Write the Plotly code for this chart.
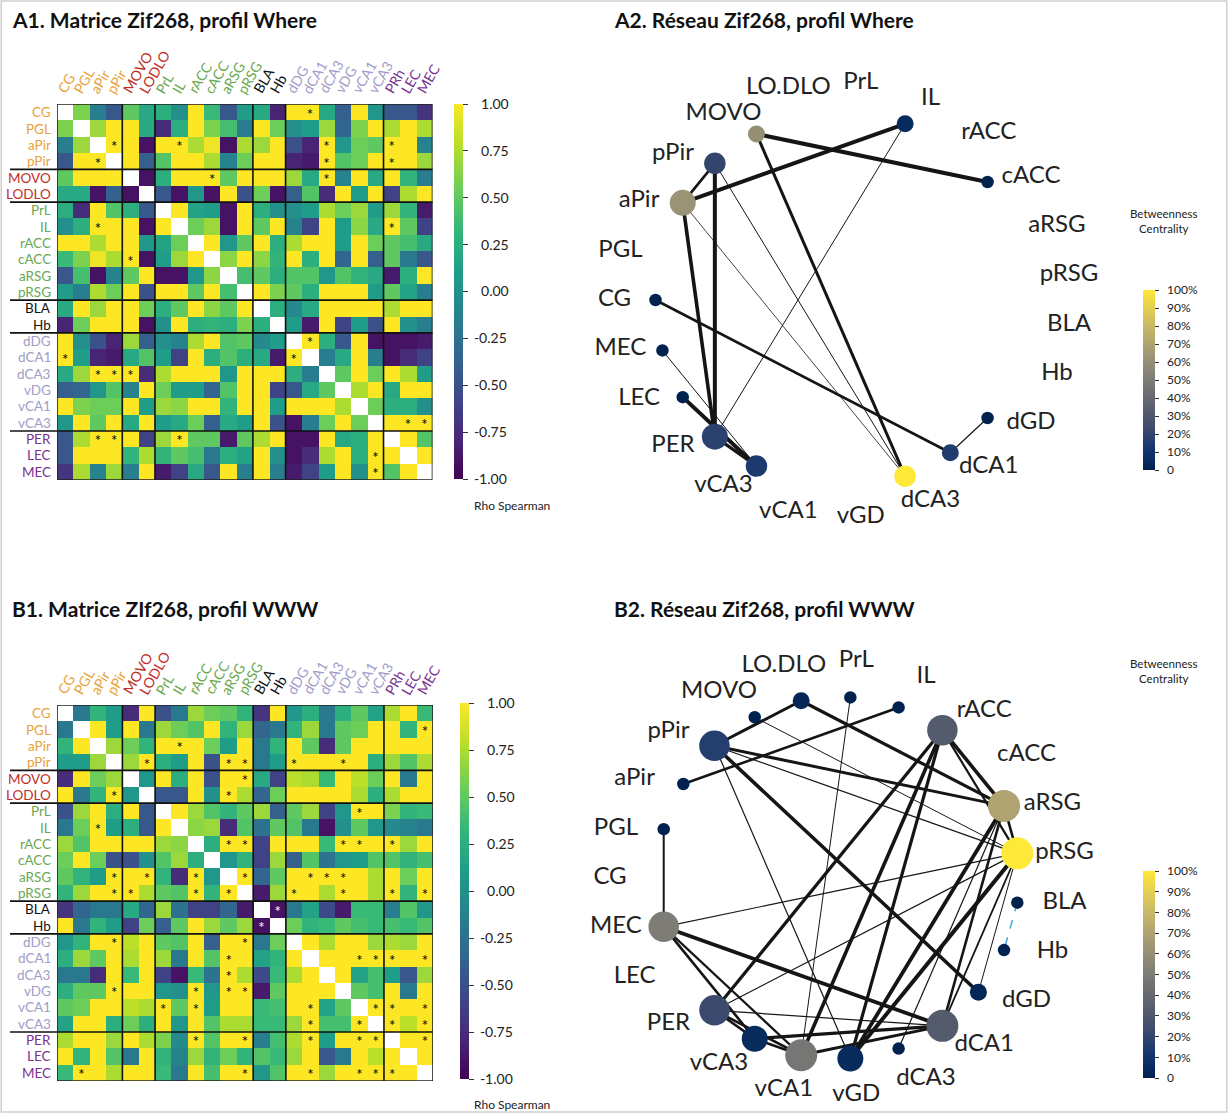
import numpy as np
import plotly.graph_objects as go

W, H = 1228, 1113
FONT = "Lato"

# ---------------- heatmap data ----------------
row_labels = ["CG", "PGL", "aPir", "pPir", "MOVO", "LODLO", "PrL", "IL", "rACC", "cACC", "aRSG", "pRSG",
              "BLA", "Hb", "dDG", "dCA1", "dCA3", "vDG", "vCA1", "vCA3", "PER", "LEC", "MEC"]
col_labels = ["CG", "PGL", "aPir", "pPir", "MOVO", "LODLO", "PrL", "IL", "rACC", "cACC", "aRSG", "pRSG",
              "BLA", "Hb", "dDG", "dCA1", "dCA3", "vDG", "vCA1", "vCA3", "PRh", "LEC", "MEC"]
group_sizes = [4, 2, 6, 2, 6, 3]
group_colors = ["#E8A23A", "#BF2E26", "#6AA84F", "#111111", "#A19DC8", "#7A3290"]

# upper triangle, row i lists columns i+1 .. 22
a1_upper = [
    [0.6, -0.15, -0.45, 0.5, 0.2, 0.25, 0.0, 1, 0.35, -0.45, 0.1, 0.2, -0.8, 1, 1, 0.2, -0.4, 1, 0.05, -0.45, -0.45, -0.7],
    [0.7, 1, 1, 0.2, -0.75, 0.25, 1, 0.6, 0.4, -0.15, 1, 0.55, 0.0, 0.1, 0.7, -0.35, 0.6, 1, 0.75, 1, 0.75],
    [1, 1, -0.9, 1, 1, 0.75, 0.95, -0.9, 0.75, 0.7, 1, -0.5, -0.8, 1, 0.05, 0.55, 0.5, 1, 1, -0.1],
    [1, -0.4, 0.45, 1, 1, 0.75, -0.1, 0.55, 1, 1, -0.8, -0.85, 1, 0.45, 0.55, 1, 1, 1, 0.7],
    [-0.9, 0.25, 1, 1, 1, 0.5, 1, 1, 1, 0.7, 0.2, 1, -0.1, 1, 0.2, 1, 0.3, -0.15],
    [-0.45, -0.9, 0.05, -0.9, 1, -0.5, 0.55, -0.9, -0.4, 0.45, -0.75, 1, 0.1, 1, -0.6, 0.75, 1],
    [1, 0.15, 0.1, -0.9, 1, 0.25, 0.0, 0.0, 0.1, 0.75, 0.55, 0.7, 0.1, 0.7, 0.3, -0.85],
    [0.55, 0.7, -0.9, 1, 0.5, 1, -0.1, -0.6, 1, 0.1, 0.65, 0.2, 1, 0.5, -0.6],
    [1, 0.05, 0.5, 1, 0.25, 0.75, 1, 1, 0.1, 1, 0.55, 0.5, 0.4, 0.2],
    [0.65, 1, 0.65, 0.3, 1, 0.25, 1, -0.35, 1, -0.4, 0.5, -0.2, -0.45],
    [0.4, 0.5, 0.25, 0.45, 0.45, 0.05, 0.45, 0.3, 0.2, -0.85, 0.25, 1],
    [1, 0.6, 0.5, 0.25, 1, 1, 1, 0.1, 0.5, 0.15, -0.15],
    [0.25, -0.05, 0.2, 1, 1, 1, 1, 0.75, 1, 1],
    [0.1, -0.85, 1, -0.6, 0.1, -0.5, 1, 0.0, -0.15],
    [1, 0.25, -0.45, 1, -0.9, -0.9, -0.9, -0.85],
    [-0.15, 0.2, 1, -0.15, -0.9, -0.75, -0.6],
    [0.5, 1, 0.55, 1, 0.75, 0.1],
    [0.75, 1, 0.2, 1, 1],
    [0.55, 0.25, 0.25, 0.0],
    [1, 1, 1],
    [1, 0.45],
    [1],
]
a1_stars = [(0, 15), (2, 3), (2, 7), (2, 16), (2, 20), (3, 16), (3, 20), (4, 9), (4, 16),
            (7, 20), (14, 15), (19, 21), (19, 22)]

b1_upper = [
    [-0.2, 0.3, 0.1, -0.75, 1, -0.5, -0.2, 0.7, 0.55, 0.5, 0.3, -0.7, 1, 0.05, 0.25, -0.2, 0.25, 0.5, 0.15, 0.75, 1, 0.35],
    [1, 0.1, 1, -0.2, 0.7, 0.55, 0.45, 1, 0.3, 0.7, -0.35, -0.2, 0.3, 0.7, -0.2, 0.5, 0.55, 1, 1, 0.3, 1],
    [0.7, 0.55, 0.3, 1, 1, 1, 0.55, 0.1, 1, -0.2, 0.3, 1, 0.5, -0.75, 0.5, 1, 1, 1, 1, 1],
    [0.7, 1, 0.25, 0.1, 1, -0.5, 1, 1, -0.2, 0.1, 1, 1, 1, 1, 1, 0.25, 0.7, 0.45, 0.75],
    [0.05, 1, 0.25, 1, -0.5, 1, 1, 0.2, -0.6, 0.8, 0.75, 0.35, 1, 0.8, 0.55, 1, -0.2, 1],
    [-0.45, -0.45, 1, 0.0, 1, 0.75, -0.35, 0.55, 1, 1, 1, 1, 0.75, 0.25, 0.75, 1, 1],
    [1, 0.7, 0.45, 0.3, 0.5, 0.7, -0.4, 0.5, 0.7, -0.6, 0.05, 1, 1, 0.6, 0.3, 0.35],
    [0.65, 0.7, -0.75, 0.45, -0.25, 0.5, 0.45, -0.2, -0.9, 0.0, 0.5, 0.05, -0.05, -0.1, -0.2],
    [0.25, 1, 1, -0.6, 1, 1, 1, 0.35, 1, 1, 1, 1, 0.7, 1],
    [0.05, 0.3, -0.6, 0.7, -0.4, 0.45, -0.25, 0.05, 0.1, 0.45, 0.45, 0.3, 0.4],
    [1, -0.35, 0.5, 1, 1, 1, 1, 1, 0.75, 1, 0.55, 1],
    [-0.85, 0.7, 1, 1, 0.75, 1, 1, 0.75, 1, 0.3, 1],
    [-0.9, -0.2, 0.15, -0.55, -0.85, 0.35, 0.35, -0.15, 0.45, 0.05],
    [0.55, 0.3, 0.35, 0.5, 0.4, 0.35, 0.4, 0.35, 0.45],
    [1, 0.75, 1, 1, 0.7, 0.75, 0.7, 1],
    [1, 1, 1, 1, 1, 1, 1],
    [1, 0.15, 0.4, 0.1, -0.45, 0.7],
    [0.5, 0.4, 1, -0.2, 1],
    [1, 1, 1, 1],
    [1, 0.8, 1],
    [1, 1],
    [1],
]
b1_stars = [(1, 22), (2, 7), (3, 5), (3, 10), (3, 11), (3, 14), (3, 17), (4, 11), (5, 10), (6, 18),
            (8, 10), (8, 11), (8, 17), (8, 18), (8, 20), (10, 11), (10, 15), (10, 16), (10, 17),
            (11, 14), (11, 17), (11, 20), (11, 22), (12, 13), (15, 18), (15, 19), (15, 20), (15, 22),
            (18, 19), (18, 20), (18, 22), (19, 20), (19, 22), (20, 22)]

cb_rho_ticks = [1.0, 0.75, 0.5, 0.25, 0.0, -0.25, -0.5, -0.75, -1.0]

# ---------------- network data ----------------
net_nodes = ["LO.DLO", "PrL", "IL", "rACC", "cACC", "aRSG", "pRSG", "BLA", "Hb", "dGD", "dCA1", "dCA3",
             "vGD", "vCA1", "vCA3", "PER", "LEC", "MEC", "CG", "PGL", "aPir", "pPir", "MOVO"]

a2_edges = [("MOVO", "cACC", 0.97), ("aPir", "IL", 0.97), ("aPir", "pPir", 0.90), ("aPir", "PER", 0.95),
            ("pPir", "PER", 0.97), ("MOVO", "dCA3", 0.92), ("IL", "PER", 0.82), ("pPir", "dCA3", 0.82),
            ("aPir", "dCA3", 0.81), ("CG", "dCA1", 0.90), ("MEC", "vCA3", 0.82), ("LEC", "vCA3", 0.97),
            ("PER", "vCA3", 0.93), ("dCA1", "dGD", 0.83)]
a2_betw_nodes = ["dCA3", "aPir", "MOVO", "pPir", "PER", "vCA3", "dCA1", "IL"]
a2_betw_vals = [1.0, 0.62, 0.60, 0.20, 0.18, 0.14, 0.15, 0.05]

b2_edges = [("pPir", "LO.DLO", 0.92), ("LO.DLO", "aRSG", 0.93), ("MOVO", "pRSG", 0.82), ("IL", "aPir", 0.90),
            ("PrL", "vCA1", 0.82), ("pPir", "aRSG", 0.92), ("pPir", "pRSG", 0.83), ("pPir", "dGD", 0.95),
            ("pPir", "vGD", 0.83), ("rACC", "aRSG", 0.95), ("rACC", "pRSG", 0.88), ("rACC", "PER", 0.93),
            ("rACC", "vCA1", 0.95), ("rACC", "vGD", 0.93), ("aRSG", "vGD", 0.96), ("pRSG", "vGD", 0.97),
            ("aRSG", "dCA1", 0.90), ("aRSG", "dCA3", 0.83), ("aRSG", "pRSG", 0.90), ("pRSG", "MEC", 0.83),
            ("pRSG", "PER", 0.83), ("pRSG", "dGD", 0.82), ("pRSG", "dCA1", 0.86), ("BLA", "Hb", -0.90),
            ("PGL", "MEC", 0.87), ("MEC", "dCA1", 0.96), ("MEC", "vCA3", 0.90), ("MEC", "vCA1", 0.88),
            ("PER", "vCA3", 0.90), ("PER", "vCA1", 0.90), ("PER", "dCA1", 0.83), ("vCA3", "vCA1", 0.90),
            ("vCA3", "dCA1", 0.93), ("vCA1", "dCA1", 0.92)]
b2_betw_nodes = ["pRSG", "aRSG", "MEC", "vCA1", "rACC", "dCA1", "PER", "pPir", "vGD", "vCA3", "LO.DLO", "dGD"]
b2_betw_vals = [1.0, 0.70, 0.50, 0.47, 0.32, 0.32, 0.22, 0.16, 0.05, 0.05, 0.03, 0.03]

betw_ticks = [0, 0.1, 0.2, 0.3, 0.4, 0.5, 0.6, 0.7, 0.8, 0.9, 1.0]
betw_ticktext = ["0", "10%", "20%", "30%", "40%", "50%", "60%", "70%", "80%", "90%", "100%"]

# ---------------- helpers ----------------
def px_x(p):
    return p / W


def px_y(p):
    return 1 - p / H


def full_matrix(upper):
    n = len(upper) + 1
    m = np.full((n, n), np.nan)
    for i, row in enumerate(upper):
        for k, v in enumerate(row):
            j = i + 1 + k
            m[i, j] = v
            m[j, i] = v
    return m


fig = go.Figure()
shapes = []
annotations = []
n = len(row_labels)
bounds = list(np.cumsum(group_sizes)[:-1])
label_group = []
for g, s in enumerate(group_sizes):
    label_group += [g] * s


def add_heatmap(upper, stars, xname, yname, dom_x, dom_y, cb_x, cb_y):
    z = full_matrix(upper)
    xa = "x" if xname == "xaxis" else "x" + xname[5:]
    ya = "y" if yname == "yaxis" else "y" + yname[5:]
    ticktext = [("\u00a0\u00a0\u00a0" if v >= 0 else "\u00a0") + f"{v:.2f}" for v in cb_rho_ticks]
    fig.add_trace(go.Heatmap(
        z=z, x=list(range(n)), y=list(range(n)), xaxis=xa, yaxis=ya,
        colorscale="Viridis", zmin=-1, zmax=1, hoverongaps=False,
        colorbar=dict(x=px_x(cb_x[0]), xanchor="left", xpad=0, thickness=cb_x[1] - cb_x[0],
                      y=px_y(cb_y[0]), yanchor="top", ypad=0, len=(cb_y[1] - cb_y[0]) / H,
                      lenmode="fraction", tickvals=cb_rho_ticks, ticktext=ticktext,
                      ticks="outside", ticklen=5, tickcolor="#333", outlinewidth=0,
                      tickfont=dict(family=FONT, size=14, color="#222"))))
    sx, sy, st, sc = [], [], [], []
    for (i, j) in stars:
        for (r, c) in [(i, j), (j, i)]:
            sx.append(c)
            sy.append(r + 0.22)
            st.append("*")
            sc.append("white" if z[r, c] < -0.6 else "black")
    fig.add_trace(go.Scatter(x=sx, y=sy, mode="text", text=st, xaxis=xa, yaxis=ya,
                             textfont=dict(family=FONT, size=15, color=sc), hoverinfo="skip"))
    fig.layout[xname] = dict(domain=[px_x(dom_x[0]), px_x(dom_x[1])], range=[-0.5, n - 0.5],
                             visible=False, anchor=ya, fixedrange=True)
    fig.layout[yname] = dict(domain=[px_y(dom_y[1]), px_y(dom_y[0])], range=[n - 0.5, -0.5],
                             visible=False, anchor=xa, fixedrange=True)
    line = dict(color="#111", width=1.6)
    for b in bounds:
        shapes.append(dict(type="line", xref=xa, yref=ya, x0=b - 0.5, x1=b - 0.5, y0=-0.5, y1=n - 0.5, line=line))
        shapes.append(dict(type="line", xref="paper", yref=ya, x0=px_x(10), x1=px_x(dom_x[1]),
                           y0=b - 0.5, y1=b - 0.5, line=line))
        shapes.append(dict(type="line", xref=xa, yref=ya, xsizemode="pixel", xanchor=b - 0.5, x0=0, x1=27,
                           ysizemode="pixel", yanchor=-0.5, y0=0, y1=48, line=line))
    shapes.append(dict(type="rect", xref=xa, yref=ya, x0=-0.5, x1=n - 0.5, y0=-0.5, y1=n - 0.5,
                       line=dict(color="#222", width=1.6)))
    for i in range(n):
        col = group_colors[label_group[i]]
        annotations.append(dict(x=px_x(dom_x[0] - 4), xref="paper", y=i, yref=ya, text=row_labels[i],
                                xanchor="right", yanchor="middle", showarrow=False,
                                font=dict(family=FONT, size=13.5, color=col)))
        annotations.append(dict(x=i, xref=xa, y=-0.5, yref=ya, text=col_labels[i], textangle=-60,
                                xanchor="left", yanchor="bottom", xshift=-14, yshift=5, showarrow=False,
                                font=dict(family=FONT, size=14, color=col)))


add_heatmap(a1_upper, a1_stars, "xaxis", "yaxis", (57, 432.5), (104, 480), (454, 463), (104, 479))
add_heatmap(b1_upper, b1_stars, "xaxis2", "yaxis2", (57, 433), (705, 1081), (460, 469), (703, 1079))

for yy in (506, 1104):
    annotations.append(dict(x=px_x(512), y=px_y(yy), xref="paper", yref="paper", text="Rho Spearman",
                            xanchor="center", yanchor="middle", showarrow=False,
                            font=dict(family=FONT, size=12, color="#222")))


# ---------------- networks ----------------
def add_network(edges, betw_nodes, betw_vals, xname, yname, center, r_px, dom_x, dom_y, cb_top, cb_bot):
    xa = "x" + xname[5:]
    ya = "y" + yname[5:]
    N = len(net_nodes)
    theta = np.radians((6.5 - np.arange(N)) * 360.0 / N)
    pos = {nm: (np.cos(t), np.sin(t)) for nm, t in zip(net_nodes, theta)}
    deg = {nm: 0 for nm in net_nodes}
    for a, b, rho in edges:
        deg[a] += 1
        deg[b] += 1
        neg = rho < 0
        width = max(0.8, 1 + (abs(rho) - 0.82) * 20)
        fig.add_trace(go.Scatter(x=[pos[a][0], pos[b][0]], y=[pos[a][1], pos[b][1]], mode="lines",
                                 xaxis=xa, yaxis=ya, hoverinfo="skip",
                                 line=dict(color="#4BAEDD" if neg else "#151515",
                                           width=1.6 if neg else width, dash="dash" if neg else "solid")))
    bmap = dict(zip(betw_nodes, betw_vals))
    drawn = [nm for nm in net_nodes if deg[nm] > 0]
    fig.add_trace(go.Scatter(
        x=[pos[nm][0] for nm in drawn], y=[pos[nm][1] for nm in drawn], mode="markers",
        xaxis=xa, yaxis=ya, hoverinfo="text", text=drawn,
        marker=dict(size=[min(8 + 4.5 * deg[nm], 32) for nm in drawn], opacity=1,
                    color=[bmap.get(nm, 0.0) for nm in drawn], colorscale="Cividis", cmin=0, cmax=1,
                    line=dict(width=0),
                    colorbar=dict(x=px_x(1143), xanchor="left", xpad=0, thickness=12,
                                  y=px_y(cb_top), yanchor="top", ypad=0, len=(cb_bot - cb_top) / H,
                                  lenmode="fraction", tickvals=betw_ticks,
                                  ticktext=["\u00a0\u00a0" + t for t in betw_ticktext],
                                  ticks="outside", ticklen=4, tickcolor="#333", outlinewidth=0,
                                  tickfont=dict(family=FONT, size=12, color="#222")))))
    lab_t = theta - np.radians(5.0) * np.sin(2 * theta)
    rx, ry = 228.0 / r_px, 218.0 / r_px
    fig.add_trace(go.Scatter(x=rx * np.cos(lab_t), y=ry * np.sin(lab_t), mode="text", text=net_nodes,
                             xaxis=xa, yaxis=ya, hoverinfo="skip", textposition="middle center",
                             textfont=dict(family=FONT, size=24, color="#222")))
    cx, cy = center
    fig.layout[xname] = dict(domain=[px_x(dom_x[0]), px_x(dom_x[1])],
                             range=[(dom_x[0] - cx) / r_px, (dom_x[1] - cx) / r_px],
                             visible=False, anchor=ya, fixedrange=True)
    fig.layout[yname] = dict(domain=[px_y(dom_y[1]), px_y(dom_y[0])],
                             range=[(cy - dom_y[1]) / r_px, (cy - dom_y[0]) / r_px],
                             visible=False, anchor=xa, fixedrange=True)


add_network(a2_edges, a2_betw_nodes, a2_betw_vals, "xaxis3", "yaxis3", (842.5, 300), 187,
            (565, 1115), (58, 545), 290, 470)
add_network(b2_edges, b2_betw_nodes, b2_betw_vals, "xaxis4", "yaxis4", (838, 878), 181,
            (565, 1115), (640, 1112), 871, 1078)

for yy in (221, 671):
    annotations.append(dict(x=px_x(1163), y=px_y(yy), xref="paper", yref="paper",
                            text="Betweenness<br>Centrality", showarrow=False, align="center",
                            xanchor="center", yanchor="middle",
                            font=dict(family=FONT, size=11.5, color="#222")))

titles = [("A1. Matrice Zif268, profil Where", 10, 20), ("A2. Réseau Zif268, profil Where", 612, 20),
          ("B1. Matrice ZIf268, profil WWW", 10, 608), ("B2. Réseau Zif268, profil WWW", 612, 608)]
for t, x, y in titles:
    annotations.append(dict(x=px_x(x), y=px_y(y), xref="paper", yref="paper", text="<b>" + t + "</b>",
                            xanchor="left", yanchor="middle", showarrow=False,
                            font=dict(family=FONT, size=21, color="#111")))

shapes.append(dict(type="rect", xref="paper", yref="paper", x0=0.001, x1=0.999, y0=0.001, y1=0.999,
                   line=dict(color="#cfcfcf", width=1.5)))

fig.update_layout(width=W, height=H, autosize=False, margin=dict(l=0, r=0, t=0, b=0),
                  paper_bgcolor="white", plot_bgcolor="white", showlegend=False,
                  shapes=shapes, annotations=annotations, font=dict(family=FONT))
fig.write_html("out.html", config={"displayModeBar": False, "staticPlot": True},
               post_script="document.body.style.margin='0px';")
